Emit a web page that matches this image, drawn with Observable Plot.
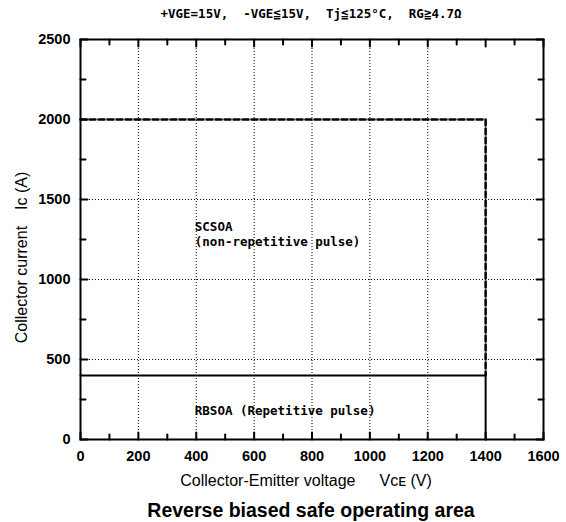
<!DOCTYPE html>
<html><head><meta charset="utf-8">
<script src="https://cdn.jsdelivr.net/npm/d3@7"></script>
<script src="https://cdn.jsdelivr.net/npm/@observablehq/plot@0.6"></script>
<style>body{margin:0;background:#fff}</style>
</head><body><div id="chart"></div>
<script>
const xTicks = [0,200,400,600,800,1000,1200,1400,1600];
const xMinor = [100,300,500,700,900,1100,1300,1500];
const yTicks = [0,500,1000,1500,2000,2500];
const yMinor = [250,750,1250,1750,2250];
const gridX = [200,400,600,800,1000,1200];
const gridY = [500,1000,1500];
const scsoa = [{v:0,i:2000},{v:1400,i:2000},{v:1400,i:400}];
const rbsoa = [{v:0,i:400},{v:1400,i:400},{v:1400,i:0}];
const labels = [
  {v:395,i:1330,t:"SCSOA"},
  {v:395,i:1232,t:"(non-repetitive pulse)"},
  {v:395,i:178,t:"RBSOA (Repetitive pulse)"}
];
const title = "+VGE=15V,  -VGE≦15V,  Tj≦125°C,  RG≧4.7Ω";
const xLabel = "Collector-Emitter voltage\u2002\u2002\u2002Vᴄᴇ (V)";
const yLabel = "Collector current\u2002\u2002Ic (A)";
const caption = "Reverse biased safe operating area";

const W = 566, H = 522, mL = 80, mR = 23, mT = 39, mB = 83;
const xMax = 1600, yMax = 2500;
const iW = W - mL - mR, iH = H - mT - mB;
const tx = (px) => yMax * px / iH;
const ty = (px) => xMax * px / iW;

// inward tick segments built from the tick arrays
const segs = [];
function addX(vals, px) {
  vals.forEach(v => {
    segs.push({x: v, y: 0, k: "b" + v}, {x: v, y: tx(px), k: "b" + v});
    segs.push({x: v, y: yMax - tx(px), k: "t" + v}, {x: v, y: yMax, k: "t" + v});
  });
}
function addY(vals, px) {
  vals.forEach(v => {
    segs.push({x: 0, y: v, k: "l" + v}, {x: ty(px), y: v, k: "l" + v});
    segs.push({x: xMax - ty(px), y: v, k: "r" + v}, {x: xMax, y: v, k: "r" + v});
  });
}
addX(xTicks, 7); addX(xMinor, 5); addY(yTicks, 7); addY(yMinor, 5);

const font = "Arial, 'Liberation Sans', sans-serif";
const mono = "'DejaVu Sans Mono', 'Liberation Mono', monospace";
const chart = Plot.plot({
  width: W, height: H,
  marginLeft: mL, marginRight: mR, marginTop: mT, marginBottom: mB,
  style: {fontFamily: font, fontSize: "14.5px", fontWeight: "bold", color: "black", background: "white"},
  x: {domain: [0,xMax]},
  y: {domain: [0,yMax]},
  marks: [
    Plot.ruleX(gridX, {stroke: "black", strokeWidth: 1, strokeDasharray: "1,2"}),
    Plot.ruleY(gridY, {stroke: "black", strokeWidth: 1, strokeDasharray: "1,2"}),
    Plot.line(scsoa, {x: "v", y: "i", stroke: "black", strokeWidth: 2.5, strokeDasharray: "6,3"}),
    Plot.line(rbsoa, {x: "v", y: "i", stroke: "black", strokeWidth: 2}),
    Plot.line(segs, {x: "x", y: "y", z: "k", stroke: "black", strokeWidth: 2}),
    Plot.text(labels, {x: "v", y: "i", text: "t", textAnchor: "start", fontFamily: mono, fontSize: 12.5, fontWeight: "bold"}),
    Plot.axisX(xTicks, {anchor: "bottom", tickSize: 0, tickPadding: 11, tickFormat: d3.format("d"), label: null}),
    Plot.axisY(yTicks, {anchor: "left", tickSize: 0, tickPadding: 10, tickFormat: d3.format("d"), label: null}),
    Plot.frame({stroke: "black", strokeWidth: 2}),
    Plot.text([title], {frameAnchor: "top", dy: -30, dx: -1, fontFamily: mono, fontSize: 12.5, fontWeight: "bold"}),
    Plot.text([xLabel], {frameAnchor: "bottom", dy: 46, dx: -6, fontSize: 16, fontWeight: "normal"}),
    Plot.text([caption], {frameAnchor: "bottom", dy: 77, dx: -1, fontSize: 19.5, fontWeight: "bold"}),
    Plot.text([yLabel], {frameAnchor: "left", textAnchor: "middle", dx: -59, dy: 18, rotate: -90, fontSize: 16, fontWeight: "normal"})
  ]
});
document.getElementById("chart").appendChild(chart);
</script></body></html>
